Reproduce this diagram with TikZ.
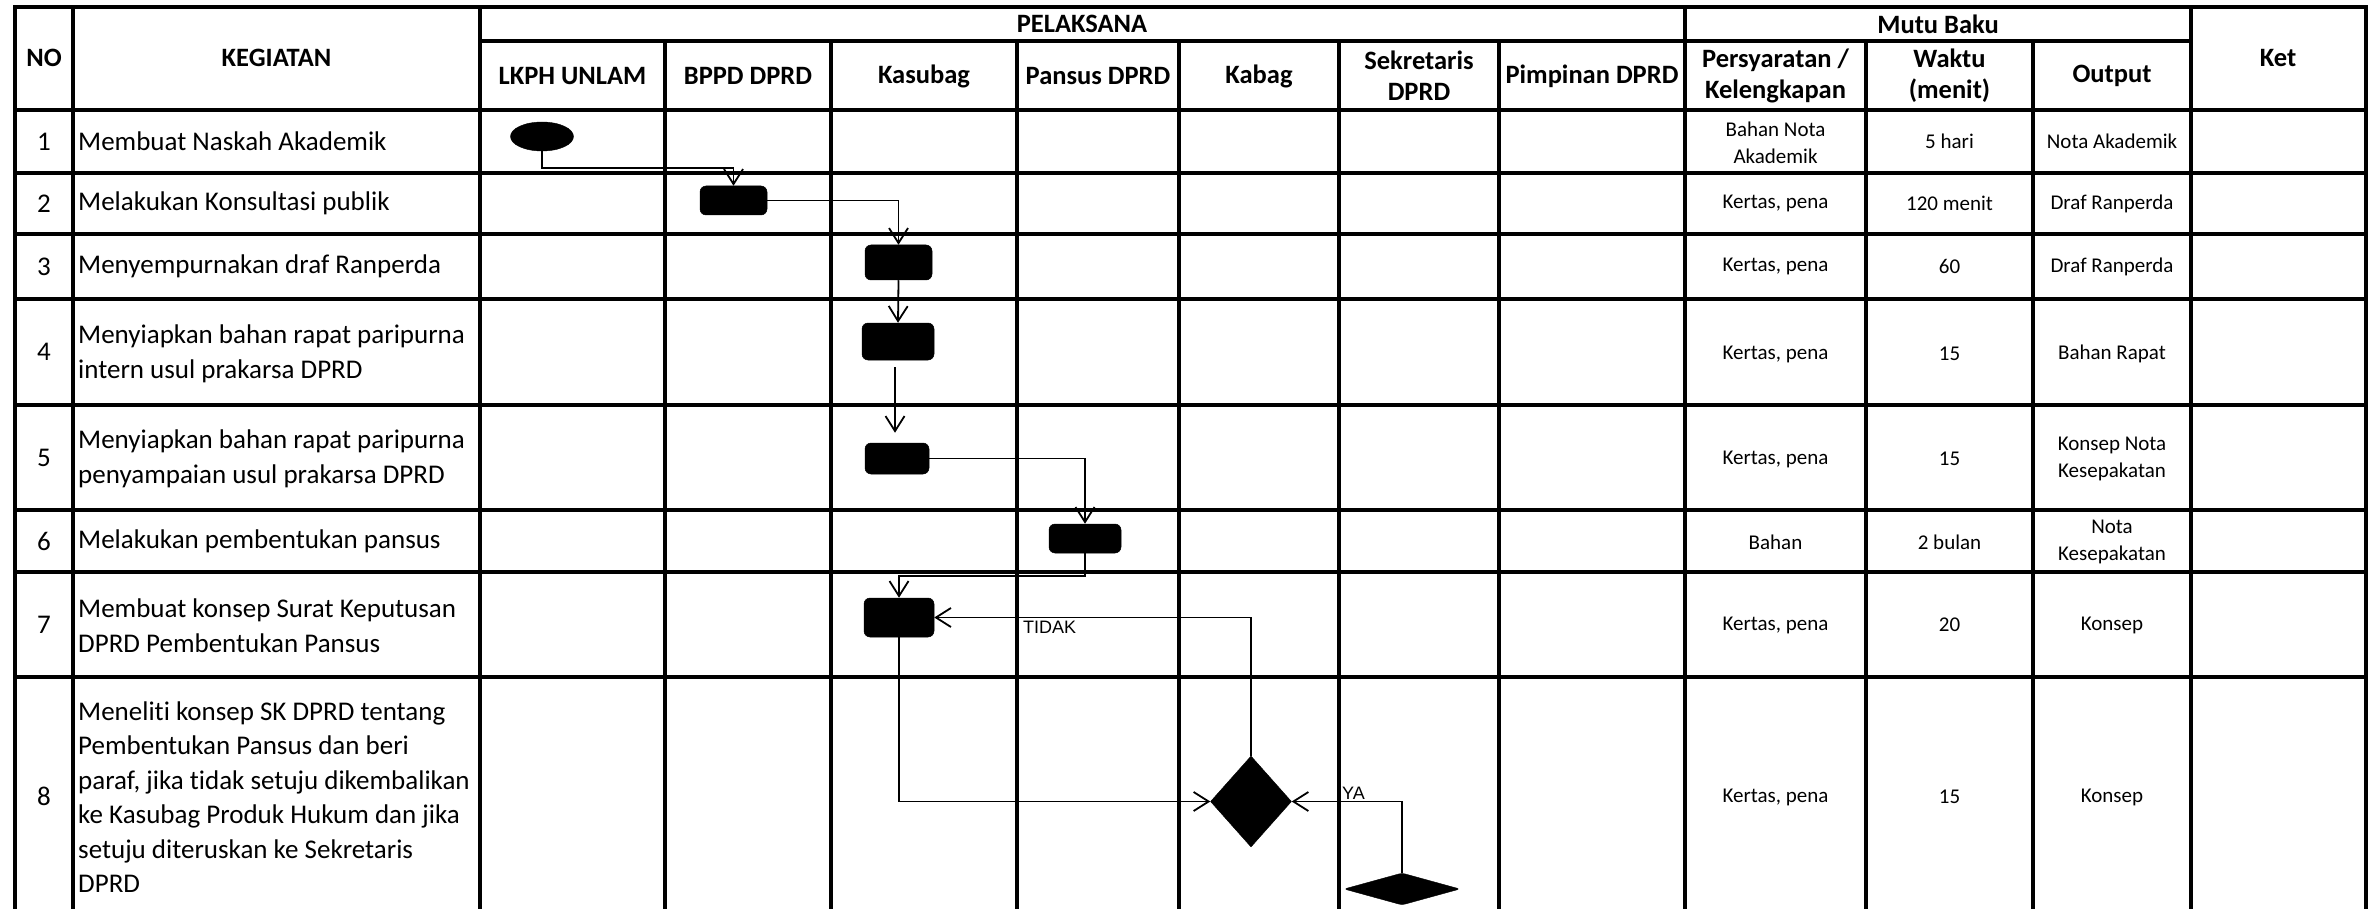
\documentclass[tikz,border=0pt]{standalone}
\usepackage{fontspec}
\setmainfont{Carlito}[Ligatures=NoCommon]
\newfontfamily\labelfont{Liberation Sans}
\usetikzlibrary{arrows.meta,shapes.geometric}
\tikzset{
 grid/.style={line width=3.5pt, line cap=rect},
 conn/.style={line width=1.8pt, -{Straight Barb[length=15pt,width=19pt]}},
 plain/.style={line width=1.8pt},
 actbox/.style={draw=black, fill=black, rounded corners=6pt, inner sep=0pt, line width=0.5pt},
 startnode/.style={ellipse, draw=black, fill=black, inner sep=0pt},
 decide/.style={diamond, draw=black, fill=black, inner sep=0pt},
 hdr/.style={font=\bfseries\fontsize{26.5}{31}\selectfont, align=center, inner sep=0pt},
 rowtxt/.style={font=\fontsize{27}{34.5}\selectfont, align=left, anchor=west, inner sep=0pt},
 num/.style={font=\fontsize{27}{34.5}\selectfont, inner sep=0pt},
 dat/.style={font=\fontsize{21}{26.5}\selectfont, align=center, inner sep=0pt},
 lbl/.style={font=\labelfont\fontsize{18}{20}\selectfont, inner sep=0pt},
}
\begin{document}
\begin{tikzpicture}[x=1pt,y=-1pt]
\useasboundingbox (0,0) rectangle (2368,909);
\clip (0,0) rectangle (2368,909);
% table grid
\foreach \yy in {7,110,173,234,299,405,510,572,677,915} \draw[grid] (15,\yy) -- (2366,\yy);
\draw[grid] (480,41) -- (2191,41);
\foreach \xx in {15,73,480,1685,2191,2366} \draw[grid] (\xx,7) -- (\xx,915);
\foreach \xx in {665,831,1017,1179,1339,1499,1866,2033} \draw[grid] (\xx,41) -- (\xx,915);
% header
\node[hdr] (hno) at (44,58) {NO};
\node[hdr] (hkeg) at (276.5,58) {KEGIATAN};
\node[hdr] (hpel) at (1082,24) {PELAKSANA};
\node[hdr] (hmutu) at (1938,24) {Mutu Baku};
\node[hdr] (hket) at (2278,58) {Ket};
\node[hdr] (hlkph) at (572.5,76) {LKPH UNLAM};
\node[hdr] (hbppd) at (748,76) {BPPD DPRD};
\node[hdr] (hkasu) at (924,76) {Kasubag};
\node[hdr] (hpans) at (1098,76) {Pansus DPRD};
\node[hdr] (hkab) at (1259,76) {Kabag};
\node[hdr] (hsek) at (1419,76) {Sekretaris\\DPRD};
\node[hdr] (hpim) at (1592,76) {Pimpinan DPRD};
\node[hdr] (hper) at (1775.5,76) {Persyaratan /\\Kelengkapan};
\node[hdr] (hwak) at (1949.5,76) {Waktu\\(menit)};
\node[hdr] (hout) at (2112,76) {Output};
% row numbers
\node[num] (n1) at (44,141.5) {1};
\node[num] (n2) at (44,203.5) {2};
\node[num] (n3) at (44,266.5) {3};
\node[num] (n4) at (44,352) {4};
\node[num] (n5) at (44,457.5) {5};
\node[num] (n6) at (44,541) {6};
\node[num] (n7) at (44,624.5) {7};
\node[num] (n8) at (44,796) {8};
% activities
\node[rowtxt] (k1) at (78,141.5) {Membuat Naskah Akademik};
\node[rowtxt] (k2) at (78,203.5) {Melakukan Konsultasi publik};
\node[rowtxt] (k3) at (78,266.5) {Menyempurnakan draf Ranperda};
\node[rowtxt] (k4) at (78,354) {Menyiapkan bahan rapat paripurna\\intern usul prakarsa DPRD};
\node[rowtxt] (k5) at (78,459) {Menyiapkan bahan rapat paripurna\\penyampaian usul prakarsa DPRD};
\node[rowtxt] (k6) at (78,541) {Melakukan pembentukan pansus};
\node[rowtxt] (k7) at (78,625.5) {Membuat konsep Surat Keputusan\\DPRD Pembentukan Pansus};
\node[rowtxt] (k8) at (78,797) {Meneliti konsep SK DPRD tentang\\Pembentukan Pansus dan beri\\paraf, jika tidak setuju dikembalikan\\ke Kasubag Produk Hukum dan jika\\setuju diteruskan ke Sekretaris\\DPRD};
% mutu baku
\node[dat] (p1) at (1775.5,143) {Bahan Nota\\Akademik};
\node[dat] (w1) at (1949.5,141.5) {5 hari};
\node[dat] (o1) at (2112,141.5) {Nota Akademik};
\node[dat] (p2) at (1775.5,203.5) {Kertas, pena};
\node[dat] (w2) at (1949.5,203.5) {120 menit};
\node[dat] (o2) at (2112,203.5) {Draf Ranperda};
\node[dat] (p3) at (1775.5,266.5) {Kertas, pena};
\node[dat] (w3) at (1949.5,266.5) {60};
\node[dat] (o3) at (2112,266.5) {Draf Ranperda};
\node[dat] (p4) at (1775.5,354) {Kertas, pena};
\node[dat] (w4) at (1949.5,354) {15};
\node[dat] (o4) at (2112,354) {Bahan Rapat};
\node[dat] (p5) at (1775.5,459) {Kertas, pena};
\node[dat] (w5) at (1949.5,459) {15};
\node[dat] (o5) at (2112,459) {Konsep Nota\\Kesepakatan};
\node[dat] (p6) at (1775.5,542) {Bahan};
\node[dat] (w6) at (1949.5,542) {2 bulan};
\node[dat] (o6) at (2112,542) {Nota\\Kesepakatan};
\node[dat] (p7) at (1775.5,625) {Kertas, pena};
\node[dat] (w7) at (1949.5,625) {20};
\node[dat] (o7) at (2112,625) {Konsep};
\node[dat] (p8) at (1775.5,797) {Kertas, pena};
\node[dat] (w8) at (1949.5,797) {15};
\node[dat] (o8) at (2112,797) {Konsep};
% flow shapes
\node[startnode, minimum width=63pt, minimum height=29pt] (start) at (542,136.5) {};
\node[actbox, minimum width=67pt, minimum height=29pt] (b2) at (733.5,200.5) {};
\node[actbox, minimum width=67pt, minimum height=35pt] (b3) at (898.5,262.5) {};
\node[actbox, minimum width=72pt, minimum height=37pt] (b4) at (898,341.5) {};
\node[actbox, minimum width=64pt, minimum height=31pt] (b5) at (897,458.5) {};
\node[actbox, minimum width=72pt, minimum height=29pt] (b6) at (1085,538.5) {};
\node[actbox, minimum width=70pt, minimum height=39pt] (b7) at (899,617.5) {};
\node[decide, minimum width=81pt, minimum height=91pt] (d1) at (1251,801.5) {};
\node[decide, rounded corners=3pt, minimum width=116pt, minimum height=32pt] (d2) at (1402,889) {};
% connectors
\draw[conn] (start.south) -- ++(0,17) -| (b2.north);
\draw[conn] (b2.east) -| (b3.north);
\draw[conn] (b3.south) -- (b4.north);
\draw[conn] ([xshift=-3pt,yshift=-7pt]b4.south) -- ([xshift=-2pt,yshift=10pt]b5.north);
\draw[conn] (b5.east) -| (b6.north);
\draw[conn] (b6.south) -- ++(0,23) -| (b7.north);
\draw[conn] (d1.north) |- (b7.east);
\draw[conn] (b7.south) |- (d1.west);
\draw[conn] (d2.north) |- (d1.east);
\node[lbl, anchor=west] (tidak) at (1023,627) {TIDAK};
\node[lbl, anchor=south west] (ya) at (1342,800) {YA};
\end{tikzpicture}
\end{document}
